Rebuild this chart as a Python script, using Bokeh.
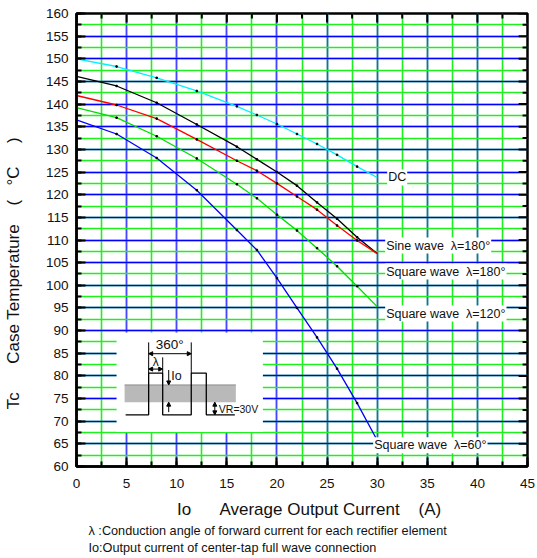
from bokeh.plotting import figure
from bokeh.models import (Range1d, SingleIntervalTicker, Label, Arrow, NormalHead, Title)
from bokeh.embed import file_html
from bokeh.resources import INLINE

# ---------------- data ----------------
current = [0, 4, 8, 12, 16, 18, 20, 22, 24, 26, 28, 30]
tc_dc = [150.0, 148.3, 145.8, 142.9, 139.5, 137.6, 135.6, 133.4, 131.2, 128.8, 126.2, 123.8]
tc_sine180 = [146.1, 144.0, 140.3, 135.5, 130.6, 127.8, 125.0, 122.0, 118.3, 114.7, 110.6, 107.0]
tc_sq180 = [141.9, 139.8, 136.8, 132.2, 127.5, 125.3, 122.5, 119.6, 116.7, 113.2, 109.9, 107.0]
tc_sq120 = [139.2, 137.0, 132.9, 128.0, 122.3, 119.2, 115.6, 112.1, 108.2, 104.2, 99.8, 95.3]
tc_sq60 = [136.5, 133.4, 128.1, 121.0, 112.2, 107.8, 101.6, 95.0, 88.5, 81.6, 74.0, 65.8]

series = [tc_dc, tc_sine180, tc_sq180, tc_sq120, tc_sq60]
series_names = ["DC", "Sine wave \u00a0\u03bb=180\u00b0", "Square wave \u00a0\u03bb=180\u00b0",
                "Square wave \u00a0\u03bb=120\u00b0", "Square wave \u00a0\u03bb=60\u00b0"]
series_colors = ["#00f0ff", "#000000", "#ff0000", "#00dd00", "#0000ff"]
label_dx = [10, 8, 8, 8, -4]
label_dy = [0, 8, -18, -7, -5]

x_ticks = [0, 5, 10, 15, 20, 25, 30, 35, 40, 45]
x_minor = [2.5, 7.5, 12.5, 17.5, 22.5, 27.5, 32.5, 37.5, 42.5]
y_ticks = list(range(60, 161, 5))
y_minor = [62.5 + 5 * i for i in range(20)]

footnotes = ["\u03bb :Conduction angle of forward current for each rectifier element",
             "Io:Output current of center-tap full wave connection"]

# inset schematic (data coordinates of the little waveform sketch)
inset_left, inset_right, inset_bottom, inset_top = 4.0, 18.6, 67.6, 89.6
band_left, band_right, band_bottom, band_top = 4.8, 15.9, 74.2, 78.0
wave_x = [4.9, 7.2, 7.2, 8.6, 8.6, 11.45, 11.45, 12.95, 12.95, 15.8]
wave_y = [71.4, 71.4, 80.6, 80.6, 71.4, 71.4, 80.6, 80.6, 71.4, 71.4]

FONT = "Liberation Sans"
NB = "\u00a0"

W, H = 536, 558
BL, BR, BT, BB = 70, 9, 13, 92
X0, X1, Y0, Y1 = 0, 45, 60, 160

p = figure(width=W, height=H, x_range=Range1d(X0, X1), y_range=Range1d(Y0, Y1),
           output_backend="svg", toolbar_location=None,
           min_border_left=BL, min_border_right=BR, min_border_top=BT, min_border_bottom=BB)
p.background_fill_color = "white"
p.border_fill_color = "white"
p.outline_line_color = "black"
p.outline_line_width = 2.5

xt = SingleIntervalTicker(interval=5, num_minor_ticks=2)
yt = SingleIntervalTicker(interval=5, num_minor_ticks=2)

xa = p.xaxis[0]
ya = p.yaxis[0]
xa.ticker = xt
ya.ticker = yt
for ax in (xa, ya):
    ax.axis_line_width = 2.5
    ax.axis_line_color = "black"
    ax.major_tick_in = 9
    ax.major_tick_out = 0
    ax.minor_tick_in = 5
    ax.minor_tick_out = 0
    ax.major_tick_line_width = 2
    ax.minor_tick_line_width = 2
    ax.major_tick_line_color = "black"
    ax.minor_tick_line_color = "black"
    ax.major_label_text_font = FONT
    ax.major_label_text_color = "#111111"
    ax.major_label_text_font_size = "13.5px"
    ax.axis_label_text_font = FONT
    ax.axis_label_text_font_size = "17px"
    ax.axis_label_text_font_style = "normal"
    ax.axis_label_text_color = "#111111"
xa.major_label_standoff = 12
ya.major_label_standoff = 8
xa.axis_label = NB * 3 + "Io" + NB * 6 + "Average Output Current" + NB * 4 + "(A)"
ya.axis_label = ("Tc" + NB * 6 + "Case Temperature" + NB * 4 + "(" + NB * 3 + "\u00b0C" +
                 NB * 5 + ")" + NB * 14)
xa.axis_label_standoff = 9
ya.axis_label_standoff = 20

for t, so in zip(footnotes, (0, 2)):
    p.add_layout(Title(text=t, align="left", offset=12, text_font=FONT,
                       text_font_size="12.7px", text_font_style="normal",
                       text_color="#111111", standoff=so), "below")

p.xgrid.ticker = xt
p.ygrid.ticker = yt
p.xgrid.grid_line_color = "#4646ff"
p.xgrid.grid_line_width = 1.6
p.xgrid.minor_grid_line_color = "#1ef01e"
p.xgrid.minor_grid_line_width = 1.6
p.ygrid.grid_line_color = "#0000ff"
p.ygrid.grid_line_width = 1.5
p.ygrid.minor_grid_line_color = "#1ef01e"
p.ygrid.minor_grid_line_width = 1.6

# tick marks on the top and right frame edges
fw = W - BL - BR
fh = H - BT - BB
ux = (X1 - X0) / fw
uy = (Y1 - Y0) / fh
for ticks, ln in ((x_ticks, 9), (x_minor, 5)):
    p.segment(x0=ticks, y0=[Y1] * len(ticks), x1=ticks, y1=[Y1 - ln * uy] * len(ticks),
              line_color="black", line_width=2)
for ticks, ln in ((y_ticks, 9), (y_minor, 5)):
    p.segment(x0=[X1] * len(ticks), y0=ticks, x1=[X1 - ln * ux] * len(ticks), y1=ticks,
              line_color="black", line_width=2)

# inset panel
p.quad(left=[inset_left], right=[inset_right], bottom=[inset_bottom], top=[inset_top],
       fill_color="white", line_color=None)
p.quad(left=[band_left], right=[band_right], bottom=[band_bottom], top=[band_top],
       fill_color="#b9b9b9", line_color=None)
p.line([band_left, band_right], [band_top, band_top], line_color="#8a8a8a", line_width=1)
p.line(wave_x, wave_y, line_color="black", line_width=1.3)

p_top = wave_y[2]
p.segment(x0=[wave_x[1], wave_x[5], wave_x[3]], y0=[p_top, p_top, p_top],
          x1=[wave_x[1], wave_x[5], wave_x[3]], y1=[87.4, 87.4, 84.1],
          line_color="black", line_width=1)

def arrow(x0, y0, x1, y1, both=True):
    end = NormalHead(size=4, fill_color="black", line_color="black", line_width=1)
    start = NormalHead(size=4, fill_color="black", line_color="black", line_width=1) if both else None
    p.add_layout(Arrow(x_start=x0, y_start=y0, x_end=x1, y_end=y1, end=end, start=start,
                       line_color="black", line_width=1))

arrow(wave_x[1], 84.9, wave_x[5], 84.9)
arrow(wave_x[1], 81.5, wave_x[3], 81.5)
arrow(9.2, 81.3, 9.2, band_top, both=False)
arrow(9.2, 72.0, 9.2, band_bottom, both=False)
arrow(13.8, band_bottom, 13.8, wave_y[0])

def lab(x, y, text, size, align="left", **kw):
    p.add_layout(Label(x=x, y=y, text=text, text_align=align, text_baseline="middle",
                       text_font=FONT, text_font_size=size, text_color="#111111", **kw))

lab(9.3, 86.9, "360\u00b0", "13.5px", "center")
lab(7.9, 83.1, "\u03bb", "12px", "center")
lab(9.45, 79.9, "Io", "12.5px")
lab(14.2, 72.7, "VR=30V", "10.5px")

# curves
for ys, c in zip(series, series_colors):
    p.line(current, ys, line_color=c, line_width=1.3)
    p.scatter(current[1:-1], ys[1:-1], size=1.5, color="black", marker="square")

for ys, name, dx, dy in zip(series, series_names, label_dx, label_dy):
    lab(current[-1], ys[-1], name, "12.5px", x_offset=dx, y_offset=dy,
        background_fill_color="white", padding=1)

open("out.html", "w").write(file_html(p, INLINE))
